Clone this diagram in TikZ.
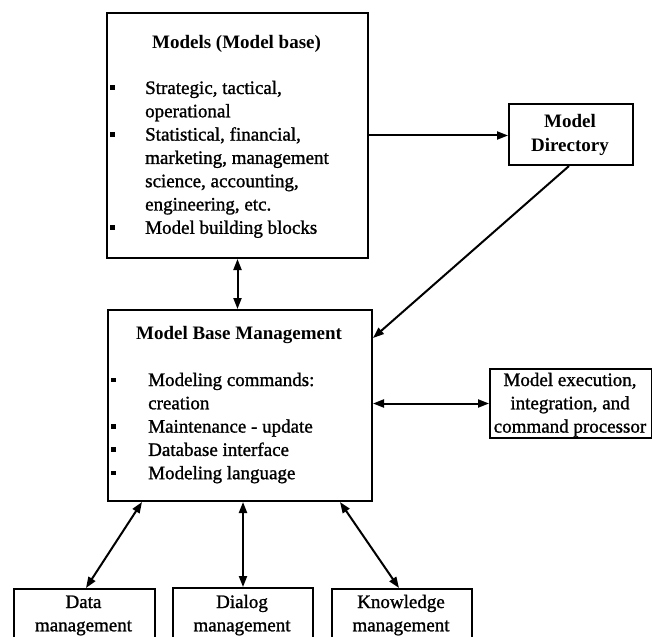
\documentclass[tikz,border=0pt]{standalone}
\usepackage{fontspec}
% heavy print: regular shapes set a little darker
\setmainfont{Liberation Serif}[UprightFeatures={FakeBold=1.2}]
\usetikzlibrary{arrows.meta}
% small square bullet used in the lists
\newcommand\blt{\rule[4pt]{5pt}{4.5pt}}
\renewcommand\arraystretch{1}
\begin{document}
\begin{tikzpicture}[x=1pt,y=-1pt,
  box/.style={draw, line width=2pt, inner sep=0pt, anchor=north west},
  txt/.style={inner sep=0pt, anchor=base, font=\fontsize{19}{23.3}\selectfont},
  btxt/.style={txt, font=\fontsize{19}{23.3}\selectfont\bfseries},
  tip/.tip={Triangle[length=11pt,width=8pt]},
  link/.style={line width=2pt, -tip},
  biway/.style={line width=2pt, tip-tip}]
\useasboundingbox (0,0) rectangle (652,636);
\clip (0,0) rectangle (652,636);

% boxes
\node[box, minimum width=261pt, minimum height=245pt] (models) at (106,12) {};
\node[box, minimum width=124pt, minimum height=61pt] (directory) at (508,103) {};
\node[box, minimum width=264pt, minimum height=191pt] (mbm) at (107,309) {};
\node[box, minimum width=162pt, minimum height=69pt] (exec) at (489,368) {};
\node[box, minimum width=141pt, minimum height=80pt] (data) at (13,588) {};
\node[box, minimum width=140pt, minimum height=80pt] (dialog) at (172,587) {};
\node[box, minimum width=140pt, minimum height=80pt] (knowledge) at (331,588) {};

% texts
\node[btxt] (modelsT) at (236.5,49) {Models (Model base)};
\node[txt, anchor=base west] (modelsL) at (110,94) {%
  \begin{tabular}[t]{@{}p{35pt}@{}l@{}}
  \blt & Strategic, tactical,\\
       & operational\\
  \blt & Statistical, financial,\\
       & marketing, management\\
       & science, accounting,\\
       & engineering, etc.\\
  \blt & Model building blocks
  \end{tabular}};
\node[btxt] (directoryT) at (570,128) {%
  \begin{tabular}[t]{@{}c@{}}Model\\Directory\end{tabular}};
\node[btxt] (mbmT) at (239,339) {Model Base Management};
\node[txt, anchor=base west] (mbmL) at (111,386) {%
  \begin{tabular}[t]{@{}p{37pt}@{}l@{}}
  \blt & Modeling commands:\\
       & creation\\
  \blt & Maintenance - update\\
  \blt & Database interface\\
  \blt & Modeling language
  \end{tabular}};
\node[txt] (execT) at (570,386) {%
  \begin{tabular}[t]{@{}c@{}}Model execution,\\integration, and\\command processor\end{tabular}};
\node[txt] (dataT) at (83.5,608) {%
  \begin{tabular}[t]{@{}c@{}}Data\\management\end{tabular}};
\node[txt] (dialogT) at (242,608) {%
  \begin{tabular}[t]{@{}c@{}}Dialog\\management\end{tabular}};
\node[txt] (knowledgeT) at (401,608) {%
  \begin{tabular}[t]{@{}c@{}}Knowledge\\management\end{tabular}};

% connectors
\draw[link] (models.east) -- (models.east -| directory.west);
\draw[biway] (models.south) -- (models.south |- mbm.north);
\draw[link] ([xshift=-2pt]directory.south) -- ([yshift=-29pt]mbm.north east);
\draw[biway] (exec.west -| mbm.east) -- (exec.west);
\draw[biway] ([xshift=35pt]mbm.south west) -- ([xshift=1.5pt]data.north);
\draw[biway] (dialog.north |- mbm.south) -- (dialog.north);
\draw[biway] ([xshift=-33pt]mbm.south east) -- ([xshift=-3pt]knowledge.north);
\end{tikzpicture}
\end{document}
